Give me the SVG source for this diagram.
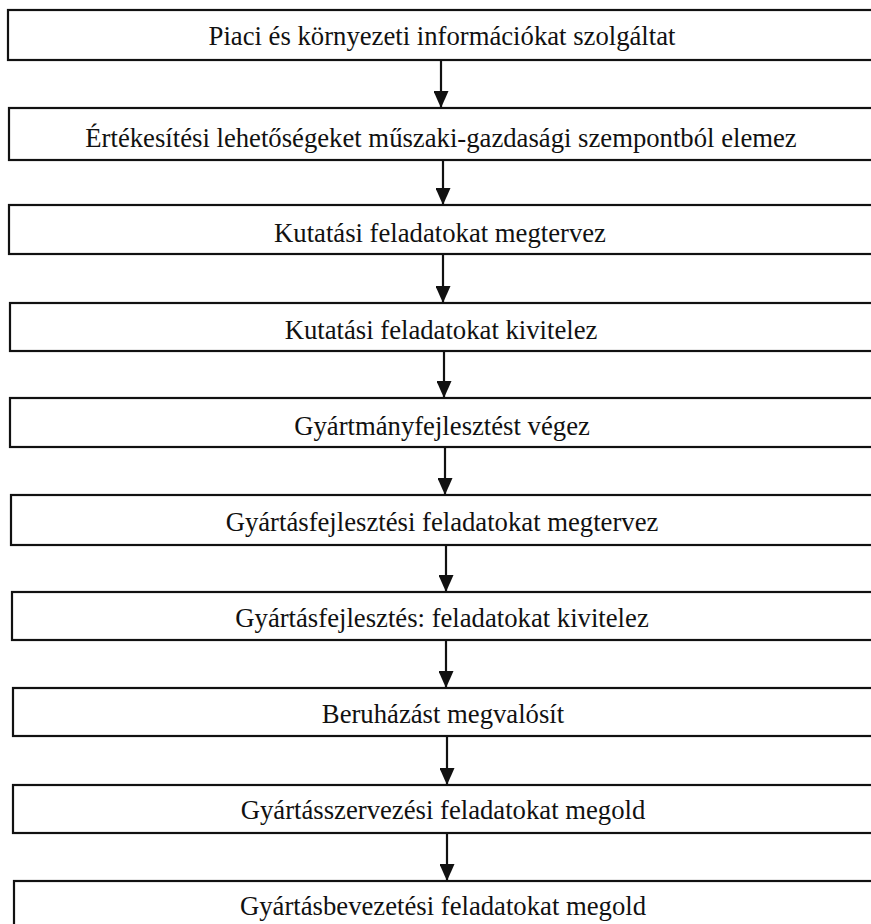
<svg xmlns="http://www.w3.org/2000/svg" width="871" height="924" viewBox="0 0 871 924">
  <style>
    .box { fill: #ffffff; stroke: #111111; stroke-width: 2.2; }
    .label { font-family: "Liberation Serif", "DejaVu Serif", "Times New Roman", serif; font-size: 26.7px; fill: #111111; text-anchor: middle; }
    .wire { stroke: #111111; stroke-width: 2.2; fill: none; }
  </style>
  <defs>
    <marker id="head" markerWidth="17" markerHeight="15" refX="17" refY="7.5" orient="auto" markerUnits="userSpaceOnUse" viewBox="0 0 17 15">
      <path d="M0,0 L17,7.5 L0,15 Z" fill="#111111"/>
    </marker>
  </defs>
  <rect width="871" height="924" fill="#ffffff"/>

  <!-- process steps, top to bottom -->
  <g id="step1"><rect class="box" x="8" y="10" width="880" height="50"/><text class="label" x="442" y="45">Piaci és környezeti információkat szolgáltat</text></g>
  <g id="step2"><rect class="box" x="9" y="108" width="880" height="52"/><text class="label" x="441" y="147">Értékesítési lehetőségeket műszaki-gazdasági szempontból elemez</text></g>
  <g id="step3"><rect class="box" x="9" y="205" width="880" height="49"/><text class="label" x="440" y="242">Kutatási feladatokat megtervez</text></g>
  <g id="step4"><rect class="box" x="10" y="303" width="880" height="48"/><text class="label" x="441" y="339">Kutatási feladatokat kivitelez</text></g>
  <g id="step5"><rect class="box" x="10" y="398" width="880" height="49"/><text class="label" x="442" y="435">Gyártmányfejlesztést végez</text></g>
  <g id="step6"><rect class="box" x="11" y="495" width="880" height="50"/><text class="label" x="442" y="531">Gyártásfejlesztési feladatokat megtervez</text></g>
  <g id="step7"><rect class="box" x="12" y="592" width="880" height="48"/><text class="label" x="442" y="627">Gyártásfejlesztés: feladatokat kivitelez</text></g>
  <g id="step8"><rect class="box" x="13" y="688" width="880" height="48"/><text class="label" x="443" y="723">Beruházást megvalósít</text></g>
  <g id="step9"><rect class="box" x="13" y="785" width="880" height="48"/><text class="label" x="443" y="819">Gyártásszervezési feladatokat megold</text></g>
  <g id="step10"><rect class="box" x="14" y="881" width="880" height="50"/><text class="label" x="443" y="915">Gyártásbevezetési feladatokat megold</text></g>

  <!-- downward arrows between consecutive steps -->
  <g id="connectors">
    <line class="wire" x1="441" y1="60" x2="441" y2="108" marker-end="url(#head)"/>
    <line class="wire" x1="443" y1="160" x2="443" y2="205" marker-end="url(#head)"/>
    <line class="wire" x1="443" y1="254" x2="443" y2="303" marker-end="url(#head)"/>
    <line class="wire" x1="444" y1="351" x2="444" y2="398" marker-end="url(#head)"/>
    <line class="wire" x1="445" y1="447" x2="445" y2="495" marker-end="url(#head)"/>
    <line class="wire" x1="446" y1="545" x2="446" y2="592" marker-end="url(#head)"/>
    <line class="wire" x1="446" y1="640" x2="446" y2="688" marker-end="url(#head)"/>
    <line class="wire" x1="447" y1="736" x2="447" y2="785" marker-end="url(#head)"/>
    <line class="wire" x1="447" y1="833" x2="447" y2="881" marker-end="url(#head)"/>
  </g>
</svg>
